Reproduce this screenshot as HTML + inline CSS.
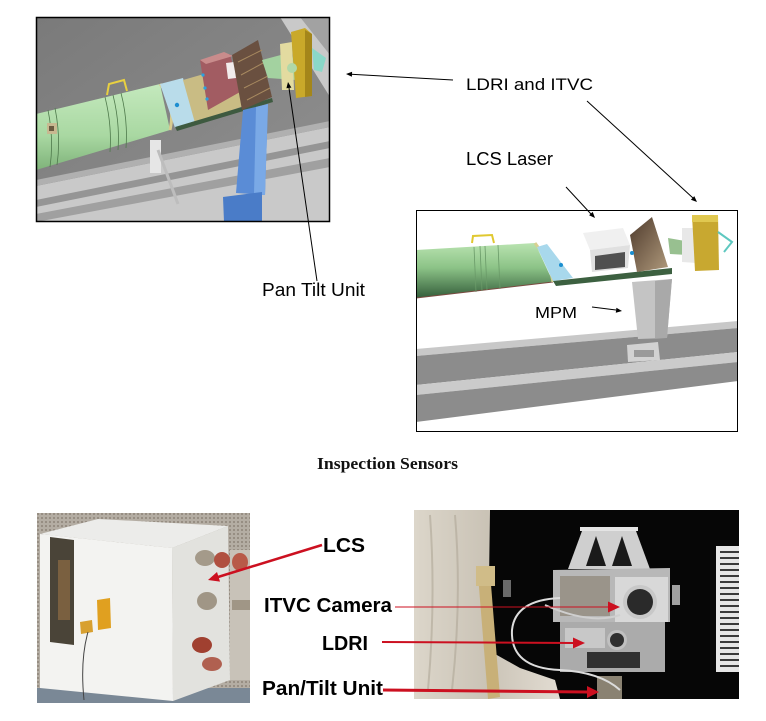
<!DOCTYPE html>
<html><head><meta charset="utf-8"><style>
html,body{margin:0;padding:0;background:#fff;}
svg{display:block;}
</style></head><body>
<svg width="766" height="721" viewBox="0 0 766 721" xmlns="http://www.w3.org/2000/svg">
<defs>
<clipPath id="c1"><rect x="36" y="17" width="294" height="205"/></clipPath>
<clipPath id="c2"><rect x="416" y="210" width="322" height="222"/></clipPath>
<clipPath id="c3"><rect x="37" y="513" width="213" height="190"/></clipPath>
<clipPath id="c4"><rect x="414" y="510" width="325" height="189"/></clipPath>
<linearGradient id="tube1" x1="0" y1="0" x2="0" y2="1"><stop offset="0" stop-color="#c4e9bd"/><stop offset="0.6" stop-color="#a9d8a2"/><stop offset="1" stop-color="#7fb37a"/></linearGradient>
<linearGradient id="tube2" x1="0" y1="0" x2="0" y2="1"><stop offset="0" stop-color="#b9e3b0"/><stop offset="0.45" stop-color="#8cc387"/><stop offset="1" stop-color="#345e3b"/></linearGradient>
<linearGradient id="brown2" x1="0" y1="0" x2="1" y2="1"><stop offset="0" stop-color="#4e3a2c"/><stop offset="1" stop-color="#b09a7c"/></linearGradient>
<linearGradient id="bg1" x1="0" y1="0" x2="1" y2="1"><stop offset="0" stop-color="#7a7a7a"/><stop offset="1" stop-color="#909090"/></linearGradient>
<linearGradient id="fab" x1="0" y1="0" x2="1" y2="0"><stop offset="0" stop-color="#dcd6ca"/><stop offset="0.5" stop-color="#cac3b6"/><stop offset="1" stop-color="#e2dcd2"/></linearGradient>
<pattern id="mesh" width="4" height="4" patternUnits="userSpaceOnUse"><rect width="4" height="4" fill="#b4ada3"/><circle cx="2" cy="2" r="1" fill="#8e8479"/></pattern>
</defs>

<!-- ===== Top-left CAD image ===== -->
<g clip-path="url(#c1)">
<rect x="36" y="17" width="294" height="205" fill="url(#bg1)"/>
<polygon points="280,17 330,17 330,97" fill="#c9c9c9"/>
<polygon points="300,17 330,17 330,55" fill="#a2a2a2"/>
<polygon points="36,186 330,127 330,222 36,222" fill="#c9c9c9"/>
<polygon points="36,200 330,141 330,148 36,207" fill="#959595"/>
<polygon points="36,214 330,158 330,167 36,222" fill="#a0a0a0"/>
<polygon points="36,180 330,121 330,127 36,186" fill="#b0b0b0"/>
<!-- bracket under tube -->
<rect x="150" y="140" width="11" height="33" fill="#e6e6e6"/>
<line x1="158" y1="150" x2="178" y2="204" stroke="#bdbdbd" stroke-width="3"/>
<!-- tube -->
<polygon points="36,114 160,84 170,130 36,170" fill="url(#tube1)"/>
<path d="M160,84 Q176,104 170,130" fill="none" stroke="#d8cc90" stroke-width="3"/>
<g fill="none" stroke="#4f7a4c" stroke-width="0.8">
<path d="M105,97 Q112,125 110,152"/><path d="M113,95 Q120,123 118,150"/><path d="M121,93 Q128,120 126,148"/><path d="M48,110 Q54,140 50,167"/><path d="M55,108 Q61,138 57,165"/>
</g>
<path d="M107,95 L109,84 L124,80 L127,91" fill="none" stroke="#e8d040" stroke-width="2"/>
<rect x="47" y="123" width="10" height="11" fill="#c8b890"/><rect x="49" y="126" width="5" height="5" fill="#6a5a40"/>
<!-- plate -->
<polygon points="160,84 183,78 195,121 175,128" fill="#b9dcea"/>
<circle cx="177" cy="105" r="2.2" fill="#1e8ed0"/>
<!-- tray -->
<polygon points="183,80 246,62 272,96 195,123" fill="#c9bc84"/>
<polygon points="175,127 272,98 273,102 177,131" fill="#3e5a40"/>
<!-- pink box -->
<polygon points="200,60 230,54 240,92 208,110" fill="#a25c62"/>
<polygon points="200,60 224,52 233,56 206,64" fill="#c98c8c"/>
<polygon points="226,63 234,62 236,78 228,79" fill="#f2ecec"/>
<circle cx="203" cy="75" r="1.6" fill="#2aa2e2"/><circle cx="205" cy="88" r="1.6" fill="#2aa2e2"/><circle cx="207" cy="99" r="1.6" fill="#2aa2e2"/>
<!-- brown box -->
<polygon points="232,55 258,40 272,97 242,110" fill="#6a5040"/>
<g stroke="#a88a60" stroke-width="1"><line x1="238" y1="62" x2="262" y2="50"/><line x1="241" y1="75" x2="265" y2="62"/><line x1="244" y1="88" x2="268" y2="76"/><line x1="247" y1="100" x2="270" y2="88"/></g>
<!-- arm & heads -->
<polygon points="262,60 292,52 296,80 268,78" fill="#a3d2a0"/>
<polygon points="280,44 292,42 294,90 282,90" fill="#e3dba0"/>
<polygon points="291,32 305,28 312,34 312,96 296,98" fill="#c9a92a"/>
<polygon points="305,30 312,34 312,96 305,97" fill="#a4861a"/>
<circle cx="292" cy="68" r="5" fill="#b0d8a8"/>
<polygon points="312,48 326,58 322,72 314,70" fill="#8ad8c8"/>
<!-- blue pillar -->
<polygon points="243,110 268,104 265,195 236,193" fill="#5a8cd6"/>
<polygon points="256,107 268,104 265,195 254,194" fill="#7aa9e6"/>
<polygon points="223,197 262,192 262,222 224,222" fill="#4a7cc8"/>
</g>
<rect x="36.5" y="17.5" width="293" height="204" fill="none" stroke="#000" stroke-width="1.5"/>

<!-- ===== Right CAD image ===== -->
<g clip-path="url(#c2)">
<rect x="416" y="210" width="322" height="222" fill="#fff"/>
<polygon points="416,349 738,321 738,328 416,356" fill="#c8c8c8"/>
<polygon points="416,356 738,328 738,352 416,385" fill="#8c8c8c"/>
<polygon points="416,385 738,352 738,362 416,395" fill="#cbcbcb"/>
<polygon points="416,395 738,362 738,381 416,422" fill="#8c8c8c"/>
<!-- tube -->
<polygon points="416,250 535,243 553,282 416,298" fill="url(#tube2)"/>
<line x1="416" y1="298" x2="553" y2="282" stroke="#7a4a40" stroke-width="1"/>
<g stroke="#6a9a68" stroke-width="0.8" fill="none"><path d="M474,247 L476,292"/><path d="M480,246 L482,291"/><path d="M485,246 L487,290"/><path d="M498,245 L500,289"/></g>
<path d="M472,243 L473,236 L492,235 L494,243" fill="none" stroke="#e0c830" stroke-width="2"/>
<path d="M535,243 Q550,262 553,282" fill="none" stroke="#d8d090" stroke-width="3"/>
<!-- plate & tray -->
<polygon points="537,247 547,244 573,278 553,281" fill="#a8d8ec"/>
<circle cx="561" cy="265" r="2" fill="#1a8ed0"/>
<polygon points="553,281 672,268 672,274 556,286" fill="#3c6040"/>
<!-- white box -->
<polygon points="583,233 623,228 630,245 590,250" fill="#f0f0f0"/>
<polygon points="590,250 630,245 628,268 592,272" fill="#e0e0e0"/>
<polygon points="595,256 625,252 625,267 595,270" fill="#505050"/>
<!-- brown box -->
<polygon points="630,235 652,217 668,267 637,272" fill="url(#brown2)"/>
<circle cx="632" cy="253" r="2" fill="#1a8ed0"/>
<!-- arm & heads -->
<polygon points="668,238 708,245 706,256 670,254" fill="#98c090"/>
<polygon points="682,228 697,228 697,263 682,262" fill="#e8e8e8"/>
<polygon points="692,215 718,215 719,270 695,271" fill="#c8a830"/>
<polygon points="692,215 718,215 718,222 692,222" fill="#e0c850"/>
<path d="M718,232 L732,242 L724,252" fill="none" stroke="#5ec8c0" stroke-width="2"/>
<!-- MPM pillar -->
<polygon points="632,282 672,279 667,338 638,339" fill="#c4c4c4"/>
<polygon points="655,281 672,279 667,338 655,338" fill="#a9a9a9"/>
<polygon points="627,345 658,342 660,360 628,362" fill="#d2d2d2"/>
<rect x="634" y="350" width="20" height="7" fill="#9a9a9a"/>
</g>
<rect x="416.5" y="210.5" width="321" height="221" fill="none" stroke="#000" stroke-width="1"/>

<!-- ===== Bottom-left photo ===== -->
<g clip-path="url(#c3)">
<rect x="37" y="513" width="213" height="190" fill="url(#mesh)"/>
<rect x="37" y="688" width="213" height="15" fill="#7a8896"/>
<polygon points="40,534 98,519 228,526 172,548" fill="#ececea"/>
<polygon points="40,534 172,548 173,701 40,688" fill="#f3f3f1"/>
<polygon points="172,548 228,526 230,680 173,701" fill="#e2e2de"/>
<polygon points="50,537 74,540 74,645 50,642" fill="#4a4438"/>
<rect x="58" y="560" width="12" height="60" fill="#7a6040"/>
<polygon points="97,600 110,598 111,628 98,630" fill="#e0a020"/>
<polygon points="80,622 92,620 93,632 81,634" fill="#d8a030"/>
<path d="M88,632 Q80,660 84,700" fill="none" stroke="#444" stroke-width="1"/>
<ellipse cx="205" cy="558" rx="10" ry="8" fill="#a49a8a"/>
<ellipse cx="222" cy="560" rx="8" ry="8" fill="#b05040"/>
<ellipse cx="207" cy="601" rx="10" ry="9" fill="#a09686"/>
<ellipse cx="202" cy="645" rx="10" ry="8" fill="#a04030"/>
<ellipse cx="212" cy="664" rx="10" ry="7" fill="#b06050"/>
<rect x="230" y="550" width="20" height="130" fill="#c8c2b8"/>
<ellipse cx="240" cy="562" rx="8" ry="9" fill="#b85a48"/>
<rect x="232" y="600" width="18" height="10" fill="#a09686"/>
</g>

<!-- ===== Bottom-right photo ===== -->
<g clip-path="url(#c4)">
<rect x="414" y="510" width="325" height="189" fill="#060606"/>
<polygon points="414,510 490,510 488,650 520,668 555,680 560,699 414,699" fill="url(#fab)"/>
<g stroke="#b0a898" stroke-width="2" fill="none" opacity="0.6"><path d="M430,515 Q436,600 428,690"/><path d="M455,515 Q462,600 452,690"/></g>
<rect x="503" y="580" width="8" height="17" fill="#6a6a6a"/>
<polygon points="478,575 490,572 500,697 488,699" fill="#c8b078"/>
<rect x="476" y="566" width="19" height="20" fill="#d0bc88"/>
<!-- camera -->
<rect x="580" y="527" width="58" height="4" fill="#e4e4e4"/>
<polygon points="582,531 636,531 650,569 568,569" fill="#cfcfcf"/>
<polygon points="596,536 606,566 586,566" fill="#1a1a1a"/>
<polygon points="622,536 632,566 612,566" fill="#1a1a1a"/>
<polygon points="553,570 670,568 670,622 553,622" fill="#b8b8b8"/>
<rect x="560" y="576" width="50" height="40" fill="#9a948a"/>
<rect x="615" y="577" width="53" height="45" fill="#d8d8d8"/>
<circle cx="640" cy="602" r="17" fill="#c8c8c8"/>
<circle cx="640" cy="602" r="13" fill="#2a2a2a"/>
<polygon points="560,622 665,622 665,672 560,672" fill="#ababab"/>
<rect x="565" y="628" width="40" height="20" fill="#c8c8c8"/>
<circle cx="617" cy="640" r="10" fill="#c0c0c0"/>
<circle cx="617" cy="640" r="7" fill="#303030"/>
<rect x="587" y="652" width="53" height="16" fill="#303030"/>
<rect x="672" y="585" width="8" height="20" fill="#a0a0a0"/>
<rect x="597" y="676" width="25" height="23" fill="#8a8272"/>
<path d="M560,598 Q515,600 512,630 Q510,668 560,670 Q600,672 620,690" fill="none" stroke="#dcdcdc" stroke-width="2"/>
<path d="M545,605 Q590,625 620,615" fill="none" stroke="#cfcfcf" stroke-width="2"/>
<!-- radiator -->
<rect x="716" y="546" width="23" height="126" fill="#e6e6e6"/>
<g stroke="#3a3a3a" stroke-width="2">
<line x1="720" y1="552" x2="739" y2="552"/><line x1="720" y1="558" x2="739" y2="558"/><line x1="720" y1="564" x2="739" y2="564"/><line x1="720" y1="570" x2="739" y2="570"/><line x1="720" y1="576" x2="739" y2="576"/><line x1="720" y1="582" x2="739" y2="582"/><line x1="720" y1="588" x2="739" y2="588"/><line x1="720" y1="594" x2="739" y2="594"/><line x1="720" y1="600" x2="739" y2="600"/><line x1="720" y1="606" x2="739" y2="606"/><line x1="720" y1="612" x2="739" y2="612"/><line x1="720" y1="618" x2="739" y2="618"/><line x1="720" y1="624" x2="739" y2="624"/><line x1="720" y1="630" x2="739" y2="630"/><line x1="720" y1="636" x2="739" y2="636"/><line x1="720" y1="642" x2="739" y2="642"/><line x1="720" y1="648" x2="739" y2="648"/><line x1="720" y1="654" x2="739" y2="654"/><line x1="720" y1="660" x2="739" y2="660"/><line x1="720" y1="666" x2="739" y2="666"/>
</g>
</g>

<!-- ===== Black callout arrows ===== -->
<g stroke="#000" stroke-width="1" fill="none">
<line x1="453" y1="80" x2="351" y2="74.3"/>
<line x1="587" y1="101" x2="693" y2="198"/>
<line x1="566" y1="187" x2="591" y2="214"/>
<line x1="317" y1="281" x2="289" y2="88"/>
<line x1="592" y1="307" x2="616" y2="310"/>
</g>
<g fill="#000">
<polygon points="346,74 352.1,71.8 351.9,76.8"/>
<polygon points="697,202 690.9,199.8 694.3,196.1"/>
<polygon points="595,218 589.1,215.3 592.7,211.9"/>
<polygon points="288,82 291.4,87.6 286.4,88.3"/>
<polygon points="622,311 615.8,312.7 616.4,307.7"/>
</g>

<!-- ===== Red arrows ===== -->
<g stroke="#cc1020" fill="none">
<line x1="322" y1="545" x2="218" y2="577" stroke-width="2.5"/>
<line x1="395" y1="607" x2="609" y2="607" stroke-width="1"/>
<line x1="382" y1="642" x2="574" y2="643" stroke-width="2"/>
<line x1="383" y1="690" x2="588" y2="692" stroke-width="3"/>
</g>
<g fill="#cc1020">
<polygon points="208,580 217,572 220,581.6"/>
<polygon points="620,607 608,601.5 608,612.5"/>
<polygon points="585,643 573,637.5 573,648.5"/>
<polygon points="599,692 587,686 587,698"/>
</g>

<!-- ===== Labels ===== -->
<g font-family="'Liberation Sans', Arial, sans-serif" fill="#000">
<text x="466" y="90" font-size="17" textLength="127" lengthAdjust="spacingAndGlyphs">LDRI and ITVC</text>
<text x="466" y="165" font-size="18" textLength="87" lengthAdjust="spacingAndGlyphs">LCS Laser</text>
<text x="262" y="296" font-size="18" textLength="103" lengthAdjust="spacingAndGlyphs">Pan Tilt Unit</text>
<text x="535" y="318" font-size="16" textLength="42" lengthAdjust="spacingAndGlyphs">MPM</text>
<g font-weight="bold" font-size="20">
<text x="323" y="552" textLength="42" lengthAdjust="spacingAndGlyphs">LCS</text>
<text x="264" y="612" textLength="128" lengthAdjust="spacingAndGlyphs">ITVC Camera</text>
<text x="322" y="650" textLength="46" lengthAdjust="spacingAndGlyphs">LDRI</text>
<text x="262" y="695" textLength="121" lengthAdjust="spacingAndGlyphs">Pan/Tilt Unit</text>
</g>
</g>
<text x="317" y="469" font-family="'Liberation Serif', 'Times New Roman', serif" font-weight="bold" font-size="16.5" fill="#111" textLength="141" lengthAdjust="spacingAndGlyphs">Inspection Sensors</text>
</svg>
</body></html>
